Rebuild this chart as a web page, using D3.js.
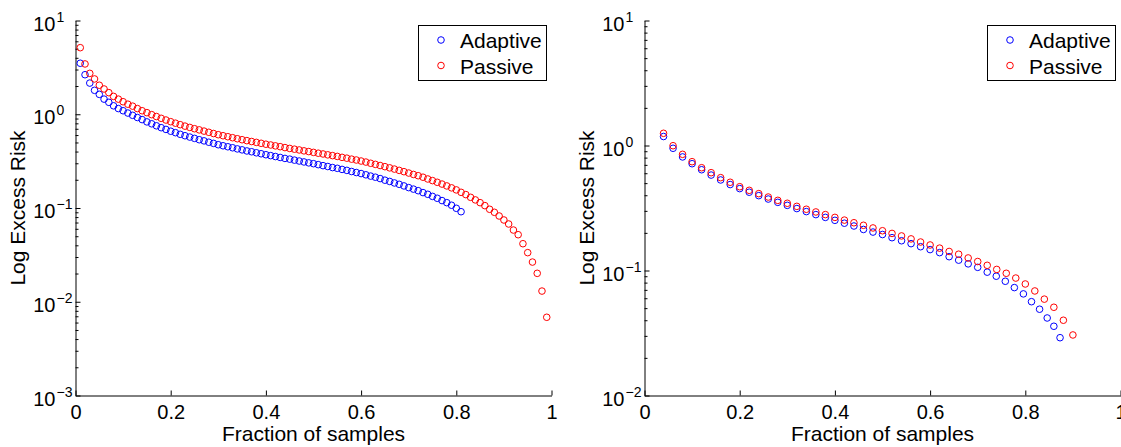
<!DOCTYPE html>
<html>
<head>
<meta charset="utf-8">
<script src="https://cdn.jsdelivr.net/npm/d3@7"></script>
<style>
  body { margin: 0; background: #fff; }
  svg { display: block; font-family: "Liberation Sans", Arial, sans-serif; }
</style>
</head>
<body>
<div id="chart"></div>
<script>
// ---- data ----
const xTicks = [0, 0.2, 0.4, 0.6, 0.8, 1];
const xTickLabels = ["0", "0.2", "0.4", "0.6", "0.8", "1"];
const leftDecades = [-3, -2, -1, 0, 1];
const rightDecades = [-2, -1, 0, 1];
const seriesNames = ["Adaptive", "Passive"];
const seriesColors = ["#0000ff", "#ff0000"];

const leftPassiveX = [0.01,0.02,0.03,0.04,0.05,0.06,0.07,0.08,0.09,0.10,
  0.11,0.12,0.13,0.14,0.15,0.16,0.17,0.18,0.19,0.20,
  0.21,0.22,0.23,0.24,0.25,0.26,0.27,0.28,0.29,0.30,
  0.31,0.32,0.33,0.34,0.35,0.36,0.37,0.38,0.39,0.40,
  0.41,0.42,0.43,0.44,0.45,0.46,0.47,0.48,0.49,0.50,
  0.51,0.52,0.53,0.54,0.55,0.56,0.57,0.58,0.59,0.60,
  0.61,0.62,0.63,0.64,0.65,0.66,0.67,0.68,0.69,0.70,
  0.71,0.72,0.73,0.74,0.75,0.76,0.77,0.78,0.79,0.80,
  0.81,0.82,0.83,0.84,0.85,0.86,0.87,0.88,0.89,0.90,
  0.91,0.92,0.93,0.94,0.95,0.96,0.97,0.98,0.99];
const leftPassive = [5.13,3.44,2.73,2.38,2.04,1.86,1.70,1.55,1.45,1.36,
  1.28,1.22,1.15,1.09,1.04,0.99,0.946,0.905,0.868,0.833,
  0.803,0.774,0.747,0.724,0.701,0.681,0.661,0.642,0.623,0.605,
  0.590,0.576,0.562,0.548,0.535,0.523,0.512,0.501,0.490,0.479,
  0.470,0.460,0.451,0.441,0.432,0.424,0.416,0.407,0.400,0.392,
  0.384,0.377,0.369,0.362,0.355,0.347,0.340,0.332,0.325,0.317,
  0.309,0.300,0.292,0.284,0.276,0.268,0.260,0.252,0.244,0.236,
  0.228,0.221,0.213,0.204,0.196,0.188,0.180,0.172,0.164,0.156,
  0.147,0.139,0.130,0.122,0.114,0.106,0.0969,0.0900,0.0822,0.0745,
  0.0675,0.0582,0.0519,0.0416,0.0334,0.0265,0.0201,0.0130,0.00683];

const leftAdaptiveX = [0.01,0.02,0.03,0.04,0.05,0.06,0.07,0.08,0.09,0.10,
  0.11,0.12,0.13,0.14,0.15,0.16,0.17,0.18,0.19,0.20,
  0.21,0.22,0.23,0.24,0.25,0.26,0.27,0.28,0.29,0.30,
  0.31,0.32,0.33,0.34,0.35,0.36,0.37,0.38,0.39,0.40,
  0.41,0.42,0.43,0.44,0.45,0.46,0.47,0.48,0.49,0.50,
  0.51,0.52,0.53,0.54,0.55,0.56,0.57,0.58,0.59,0.60,
  0.61,0.62,0.63,0.64,0.65,0.66,0.67,0.68,0.69,0.70,
  0.71,0.72,0.73,0.74,0.75,0.76,0.77,0.78,0.79,0.80,
  0.81];
const leftAdaptive = [3.50,2.64,2.15,1.80,1.63,1.45,1.34,1.23,1.15,1.09,
  1.03,0.974,0.923,0.877,0.829,0.791,0.753,0.719,0.689,0.659,
  0.636,0.611,0.590,0.571,0.553,0.535,0.520,0.503,0.489,0.473,
  0.461,0.450,0.439,0.427,0.417,0.406,0.398,0.388,0.379,0.370,
  0.362,0.354,0.346,0.338,0.332,0.324,0.317,0.310,0.303,0.297,
  0.290,0.283,0.277,0.270,0.265,0.258,0.252,0.245,0.239,0.233,
  0.226,0.219,0.213,0.206,0.198,0.192,0.185,0.179,0.172,0.165,
  0.159,0.153,0.146,0.140,0.133,0.127,0.120,0.114,0.107,0.0993,
  0.0913];

const rightPassiveX = [0.04,0.06,0.08,0.10,0.12,0.14,0.16,0.18,0.20,0.22,
  0.24,0.26,0.28,0.30,0.32,0.34,0.36,0.38,0.40,0.42,
  0.44,0.46,0.48,0.50,0.52,0.54,0.56,0.58,0.60,0.62,
  0.64,0.66,0.68,0.70,0.72,0.74,0.76,0.78,0.80,0.82,
  0.84,0.86,0.88,0.90];
const rightPassive = [1.252,0.996,0.85,0.742,0.664,0.606,0.553,0.508,0.468,0.438,
  0.412,0.387,0.364,0.345,0.326,0.309,0.294,0.280,0.266,0.253,
  0.241,0.230,0.219,0.208,0.198,0.189,0.179,0.169,0.160,0.151,
  0.142,0.135,0.126,0.118,0.110,0.102,0.095,0.087,0.078,0.0686,
  0.059,0.0508,0.040,0.0305];

const rightAdaptiveX = [0.04,0.06,0.08,0.10,0.12,0.14,0.16,0.18,0.20,0.22,
  0.24,0.26,0.28,0.30,0.32,0.34,0.36,0.38,0.40,0.42,
  0.44,0.46,0.48,0.50,0.52,0.54,0.56,0.58,0.60,0.62,
  0.64,0.66,0.68,0.70,0.72,0.739,0.758,0.777,0.796,0.813,
  0.830,0.846,0.860,0.873];
const rightAdaptive = [1.18,0.95,0.81,0.715,0.64,0.58,0.53,0.487,0.452,0.423,
  0.397,0.373,0.351,0.332,0.313,0.296,0.280,0.266,0.252,0.239,
  0.227,0.213,0.203,0.194,0.183,0.173,0.164,0.155,0.147,0.139,
  0.129,0.121,0.113,0.106,0.097,0.090,0.082,0.073,0.065,0.0563,
  0.049,0.0417,0.0358,0.029];

// ---- drawing ----
const W = 1121, H = 447;
const svg = d3.select("#chart").append("svg")
  .attr("width", W).attr("height", H);

function drawPanel(p) {
  const g = svg.append("g");
  const x = d3.scaleLinear().domain([0, 1]).range([p.left, p.left + 476]);
  const y = d3.scaleLog().domain([Math.pow(10, p.decades[0]), Math.pow(10, p.decades[p.decades.length - 1])])
    .range([395.5, 20.5]);

  // x axis, ticks pointing inward
  const xAxis = d3.axisBottom(x)
    .tickValues(xTicks)
    .tickFormat((d, i) => xTickLabels[i])
    .tickSizeInner(-5).tickSizeOuter(0).tickPadding(9);
  const gx = g.append("g").attr("transform", "translate(0,395.5)").call(xAxis);
  gx.selectAll("text").attr("font-size", 20).attr("font-family", "Liberation Sans, Arial, sans-serif").attr("fill", "#000");
  gx.selectAll("line,path").attr("stroke", "#000");

  // y axis: major + minor ticks pointing inward
  const majors = p.decades.map(e => Math.pow(10, e));
  const minors = [];
  p.decades.slice(0, -1).forEach(e => { for (let k = 2; k <= 9; k++) minors.push(k * Math.pow(10, e)); });
  const gy = g.append("g").attr("transform", `translate(${p.left},0)`);
  gy.call(d3.axisLeft(y).tickValues(majors).tickFormat("").tickSizeInner(-5).tickSizeOuter(0));
  gy.append("g").call(d3.axisLeft(y).tickValues(minors).tickFormat("").tickSizeInner(-3).tickSizeOuter(0))
    .select(".domain").remove();
  gy.selectAll("line,path").attr("stroke", "#000");

  // 10^n labels
  majors.forEach((v, i) => {
    const e = p.decades[i];
    const yy = y(v);
    g.append("text").attr("x", p.left - 20).attr("y", yy + 10)
      .attr("text-anchor", "end").attr("font-size", 20).text("10");
    g.append("text").attr("x", p.left - 19).attr("y", yy + 1)
      .attr("font-size", 14).text(e < 0 ? "\u2212" + (-e) : String(e));
  });

  // axis titles
  g.append("text").attr("x", p.left + 238).attr("y", 441)
    .attr("text-anchor", "middle").attr("font-size", 21).text("Fraction of samples");
  g.append("text").attr("transform", `translate(${p.left - 51},208) rotate(-90)`)
    .attr("text-anchor", "middle").attr("font-size", 21).text("Log Excess Risk");

  // points
  const series = [
    { xs: p.adaptiveX, ys: p.adaptive, color: seriesColors[0] },
    { xs: p.passiveX, ys: p.passive, color: seriesColors[1] }
  ];
  series.forEach(s => {
    g.append("g").selectAll("circle")
      .data(s.ys.map((v, i) => [s.xs[i], v]))
      .join("circle")
      .attr("cx", d => x(d[0])).attr("cy", d => y(d[1]))
      .attr("r", 3.3).attr("fill", "none")
      .attr("stroke", s.color).attr("stroke-width", 1);
  });

  // legend
  const lg = g.append("g").attr("transform", `translate(${p.legendX},25.5)`);
  lg.append("rect").attr("width", 128).attr("height", 55)
    .attr("fill", "#fff").attr("stroke", "#000").attr("stroke-width", 1);
  seriesNames.forEach((name, i) => {
    lg.append("circle").attr("cx", 22.5).attr("cy", 14.5 + i * 25.5).attr("r", 3.3)
      .attr("fill", "none").attr("stroke", seriesColors[i]).attr("stroke-width", 1);
    lg.append("text").attr("x", 41.5).attr("y", 22.5 + i * 25.5)
      .attr("font-size", 21).text(name);
  });
}

drawPanel({
  left: 75.5, decades: leftDecades, legendX: 418.5,
  adaptiveX: leftAdaptiveX, adaptive: leftAdaptive,
  passiveX: leftPassiveX, passive: leftPassive
});
drawPanel({
  left: 644.5, decades: rightDecades, legendX: 987.5,
  adaptiveX: rightAdaptiveX, adaptive: rightAdaptive,
  passiveX: rightPassiveX, passive: rightPassive
});
</script>
</body>
</html>
